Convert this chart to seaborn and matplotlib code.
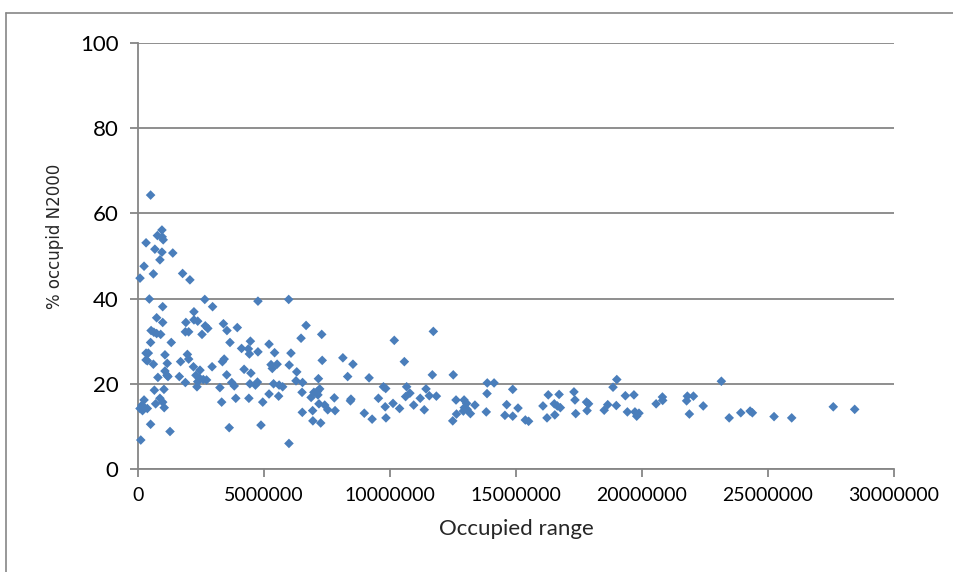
import matplotlib
matplotlib.use("Agg")
import matplotlib.pyplot as plt
import seaborn as sns
import pandas as pd
from matplotlib.lines import Line2D

# Occupied range (in millions) and % occupied N2000
range_m = [
    0.50, 0.95, 0.77, 0.96, 1.00, 0.32, 0.67, 0.95, 1.38, 0.87, 0.24, 0.61, 1.77, 2.06, 0.08,
    0.45, 2.65, 0.98, 2.96, 2.22, 0.74, 0.98, 1.90, 2.22, 2.37, 3.39, 2.67, 2.77, 3.94, 3.53,
    0.52, 0.63, 0.74, 0.90, 1.88, 2.01, 2.54, 1.32, 0.50, 3.65, 0.32, 0.41, 1.07, 1.96, 2.01,
    3.42, 3.35, 0.32, 0.37, 0.61, 1.69, 1.16, 2.20, 2.46, 2.94, 1.07, 1.15, 2.30, 3.52, 0.79,
    1.19, 1.64, 2.43, 2.59, 2.72, 1.88, 2.37, 3.72, 3.82, 2.34, 3.25, 0.65, 1.03, 3.88, 3.32,
    0.24, 0.87, 0.98, 0.70, 0.16, 0.08, 0.18, 0.37, 1.04, 0.50, 1.27, 3.62, 0.11,
    4.76, 5.98, 6.67, 6.47, 7.29, 4.46, 5.20, 4.11, 4.38, 4.42, 4.76, 5.42, 6.07, 7.31, 8.13,
    8.53, 4.21, 4.48, 5.28, 5.33, 5.52, 6.00, 6.30, 7.16, 8.32, 9.17, 6.27, 6.53, 4.44, 4.66,
    4.74, 5.38, 5.60, 5.74, 7.21, 7.12, 6.98, 6.51, 7.14, 6.87, 5.20, 5.58, 4.40, 4.95, 7.79,
    8.43, 8.45, 9.54, 7.18, 7.41, 7.53, 7.82, 6.93, 6.52, 8.98, 9.29, 6.94, 7.25, 4.88, 5.99,
    11.72, 10.17, 10.57, 11.68, 12.51, 13.86, 14.13, 9.74, 9.83, 10.66, 11.43, 14.87, 10.62,
    10.79, 11.20, 11.56, 11.84, 13.85, 9.81, 10.12, 10.38, 10.94, 11.36, 12.62, 12.94, 13.04,
    12.95, 13.06, 12.91, 13.19, 13.37, 12.64, 12.49, 13.82, 14.63, 15.08, 14.56, 14.87, 15.37,
    15.50, 9.84,
    19.00, 18.85, 16.28, 16.71, 17.30, 17.34, 16.07, 16.52, 16.64, 16.76, 16.23, 16.54, 17.37,
    17.80, 17.88, 17.82, 18.50, 18.64, 18.98, 19.34, 19.68, 19.42, 19.72, 19.79, 19.88, 20.56,
    20.81, 20.82, 21.80, 21.77, 22.04, 21.88, 22.43, 23.15,
    23.46, 23.92, 24.29, 24.38, 25.24, 25.94, 27.59, 28.44,
]
pct_n2000 = [
    64.3, 56.1, 54.8, 54.5, 53.8, 53.1, 51.6, 50.9, 50.7, 49.1, 47.6, 45.8, 45.9, 44.4, 44.8,
    39.9, 39.8, 38.1, 38.1, 36.9, 35.5, 34.4, 34.4, 35.0, 34.7, 34.1, 33.6, 33.0, 33.2, 32.5,
    32.5, 32.1, 31.8, 31.6, 32.2, 32.2, 31.6, 29.7, 29.7, 29.7, 27.2, 27.2, 26.8, 26.9, 25.8,
    25.8, 25.2, 25.6, 25.4, 24.6, 25.2, 24.8, 24.0, 23.2, 24.0, 23.0, 22.0, 22.0, 22.1, 21.5,
    21.7, 21.7, 21.4, 21.0, 20.9, 20.3, 20.5, 20.3, 19.5, 19.3, 19.1, 18.5, 18.7, 16.6, 15.7,
    16.2, 16.6, 15.7, 15.3, 15.0, 14.2, 13.7, 14.2, 14.4, 10.5, 8.8, 9.7, 6.8,
    39.4, 39.8, 33.7, 30.7, 31.6, 30.0, 29.3, 28.3, 28.2, 27.0, 27.5, 27.3, 27.2, 25.5, 26.1,
    24.6, 23.4, 22.5, 24.5, 23.6, 24.6, 24.4, 22.8, 21.2, 21.7, 21.4, 20.7, 20.3, 20.0, 19.7,
    20.4, 20.0, 19.7, 19.3, 18.8, 18.2, 18.0, 18.0, 17.4, 16.8, 17.6, 17.1, 16.6, 15.7, 16.7,
    16.0, 16.4, 16.6, 15.3, 15.0, 13.9, 13.7, 13.7, 13.3, 13.1, 11.7, 11.3, 10.8, 10.3, 6.0,
    32.3, 30.2, 25.2, 22.1, 22.1, 20.2, 20.2, 19.3, 18.9, 19.3, 18.8, 18.7, 17.0,
    17.8, 16.6, 17.2, 17.1, 17.7, 14.6, 15.4, 14.2, 15.0, 13.9, 16.2, 16.2, 15.4,
    14.4, 14.0, 13.6, 13.0, 15.0, 12.9, 11.3, 13.4, 15.1, 14.3, 12.6, 12.4, 11.5,
    11.2, 12.0,
    21.0, 19.2, 17.4, 17.5, 18.1, 16.2, 14.8, 15.3, 14.8, 14.4, 12.0, 12.7, 13.0,
    15.7, 15.3, 13.7, 13.8, 15.1, 14.9, 17.2, 17.4, 13.4, 13.4, 12.4, 13.1, 15.3,
    16.9, 16.1, 17.1, 16.0, 17.1, 12.9, 14.8, 20.6,
    12.0, 13.2, 13.6, 13.2, 12.3, 12.0, 14.6, 14.0,
]

x_ticks = [0, 5000000, 10000000, 15000000, 20000000, 25000000, 30000000]
y_ticks = [0, 20, 40, 60, 80, 100]

df = pd.DataFrame({"Occupied range": [v * 1e6 for v in range_m],
                   "% occupid N2000": pct_n2000})

sns.set_theme(style="white")
plt.rcParams["font.family"] = ["Lato", "DejaVu Sans"]

W, H = 954, 572
fig = plt.figure(figsize=(W / 100, H / 100), dpi=100)
ax = fig.add_axes([138 / W, (H - 469) / H, 756 / W, 426 / H])

grey = "#868686"
sns.scatterplot(data=df, x="Occupied range", y="% occupid N2000", ax=ax,
                marker="D", s=24, color="#4A7EBB", edgecolor="none", zorder=3,
                clip_on=False)

ax.set_xlim(0, 30000000)
ax.set_ylim(0, 100)
ax.set_xticks(x_ticks)
ax.set_xticklabels([str(t) for t in x_ticks], fontsize=14)
ax.set_yticks(y_ticks)
ax.set_yticklabels([str(t) for t in y_ticks], fontsize=16)
ax.yaxis.grid(True, color=grey, linewidth=1.3)
ax.xaxis.grid(False)
ax.set_axisbelow(True)

for side in ["top", "right"]:
    ax.spines[side].set_visible(False)
for side in ["left", "bottom"]:
    ax.spines[side].set_color(grey)
    ax.spines[side].set_linewidth(1.3)

ax.tick_params(axis="both", which="both", direction="out", length=6, width=1.3,
               color=grey, left=True, bottom=True, colors="black")
ax.tick_params(axis="y", pad=8)
ax.tick_params(axis="x", pad=7)
for t in ax.get_xticklines() + ax.get_yticklines():
    t.set_color(grey)

ax.set_xlabel("Occupied range", fontsize=16)
ax.xaxis.set_label_coords(0.5, -0.118)
ax.set_ylabel("% occupid N2000", fontsize=12, family=["DejaVu Sans"])
ax.yaxis.set_label_coords(-0.098, 0.545)

# outer chart frame (left and top edges visible)
fig.add_artist(Line2D([6 / W, 6 / W], [0, 1 - 13 / H], transform=fig.transFigure,
                      color=grey, linewidth=1.2))
fig.add_artist(Line2D([6 / W, 1], [1 - 13 / H, 1 - 13 / H], transform=fig.transFigure,
                      color=grey, linewidth=1.2))

fig.savefig("out.png", dpi=100)
